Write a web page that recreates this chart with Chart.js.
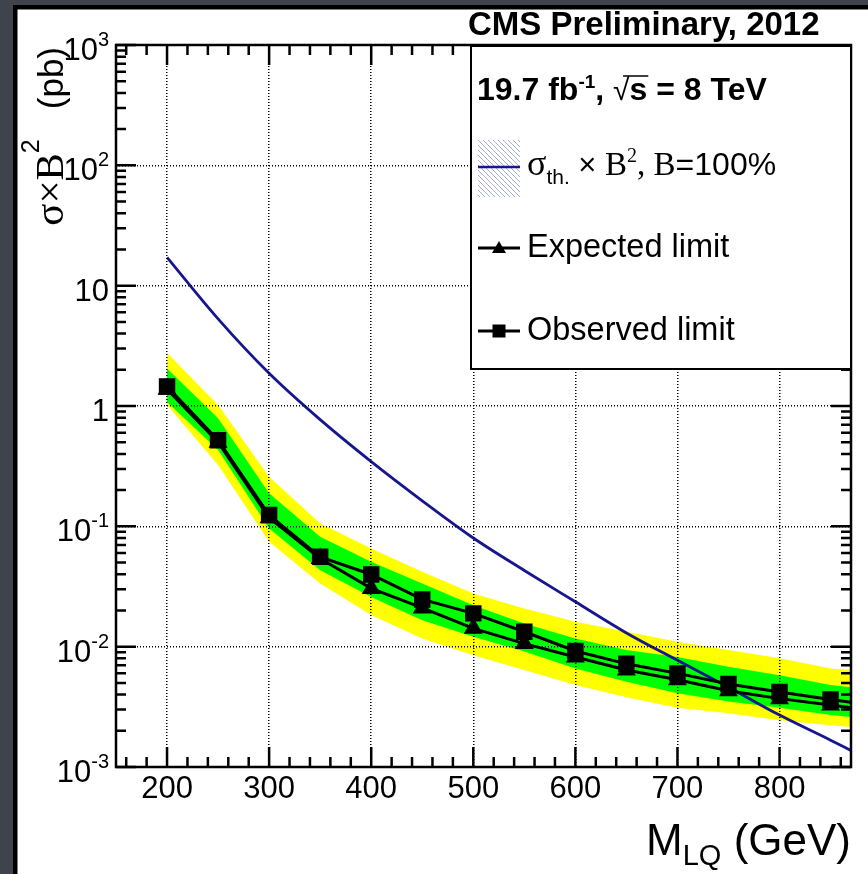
<!DOCTYPE html>
<html>
<head>
<meta charset="UTF-8" />
<title>LQ pair production limit</title>
<script src="https://cdn.jsdelivr.net/npm/chart.js"></script>
<style>
  html, body { margin: 0; padding: 0; background: #3f434b; }
  canvas { display: block; }
</style>
</head>
<body>
<canvas id="limitChart" width="868" height="874"></canvas>
<script>
  // values (pb); last column is where the curves leave the frame
  const masses    = [200, 250, 300, 350, 400, 450, 500, 550, 600, 650, 700, 750, 800, 850, 870];
  const observed  = [1.45, 0.52, 0.124, 0.0558, 0.0398, 0.0247, 0.0189, 0.0133, 0.0092, 0.0072, 0.0060, 0.0049, 0.0042, 0.00364, 0.00345];
  const expected  = [1.38, 0.50, 0.118, 0.054, 0.0305, 0.0210, 0.0142, 0.0106, 0.0082, 0.0064, 0.0053, 0.0043, 0.0037, 0.00327, 0.0031];
  const oneSigUp  = [2.05, 0.79, 0.188, 0.082, 0.0507, 0.0335, 0.0221, 0.0156, 0.0117, 0.0094, 0.0082, 0.0068, 0.0058, 0.0048, 0.0046];
  const oneSigDn  = [1.08, 0.43, 0.096, 0.0432, 0.0259, 0.0166, 0.0121, 0.0091, 0.0066, 0.0051, 0.0041, 0.0035, 0.0031, 0.0027, 0.0026];
  const twoSigUp  = [2.77, 1.02, 0.258, 0.106, 0.0655, 0.0419, 0.0277, 0.0208, 0.0161, 0.0133, 0.0110, 0.0094, 0.0080, 0.0066, 0.0064];
  const twoSigDn  = [1.02, 0.323, 0.0743, 0.0335, 0.0183, 0.0117, 0.0085, 0.0064, 0.0048, 0.0038, 0.0031, 0.0028, 0.00245, 0.00222, 0.00215];
  const theory    = [17.2, 5.3, 1.87, 0.77, 0.345, 0.163, 0.080, 0.043, 0.0236, 0.0130, 0.0077, 0.0046, 0.0027, 0.00167, 0.00137];

  const xGridValues = [200, 300, 400, 500, 600, 700, 800];
  const yExponents = [-3, -2, -1, 0, 1, 2, 3];

  const SANS = "'Liberation Sans', Arial, sans-serif";
  const SERIF = "'Liberation Serif', 'Times New Roman', serif";
  const THEORY_BLUE = '#16168f';

  const pts = arr => masses.map((m, i) => ({ x: m, y: arr[i] }));
  const lastIdx = masses.length - 1;
  const markerRadius = r => ctx => (ctx.dataIndex === lastIdx ? 0 : r);

  // draws a run of text pieces [text, font, dy, dxBefore]
  function drawRich(ctx, x, y, parts, align) {
    let w = 0;
    parts.forEach(p => { ctx.font = p[1]; w += ctx.measureText(p[0]).width + (p[3] || 0); });
    let cx = align === 'right' ? x - w : align === 'center' ? x - w / 2 : x;
    const pos = [];
    parts.forEach(p => {
      ctx.font = p[1];
      cx += p[3] || 0;
      ctx.fillText(p[0], cx, y + (p[2] || 0));
      pos.push(cx);
      cx += ctx.measureText(p[0]).width;
    });
    return pos;
  }

  const panelPlugin = {
    id: 'panel',
    beforeDraw(chart) {
      const ctx = chart.ctx;
      ctx.save();
      ctx.fillStyle = '#3f434b';
      ctx.fillRect(0, 0, chart.width, chart.height);
      ctx.fillStyle = '#000';
      ctx.fillRect(13, 5, chart.width, chart.height);
      ctx.fillStyle = '#fff';
      ctx.fillRect(17.5, 9.5, chart.width, chart.height);
      ctx.restore();
    },
    afterDraw(chart) {
      const ctx = chart.ctx;
      const xs = chart.scales.x, ys = chart.scales.y;
      const { left, right, top, bottom } = chart.chartArea;
      ctx.save();
      ctx.strokeStyle = '#000';
      ctx.fillStyle = '#000';

      // frame
      ctx.lineWidth = 2.5;
      ctx.strokeRect(left, top, right - left, bottom - top);

      // x ticks (bottom and top, pointing inwards)
      ctx.beginPath();
      for (let v = 160; v <= 860; v += 20) {
        const px = xs.getPixelForValue(v);
        const len = v % 100 === 0 ? 20 : 10;
        ctx.moveTo(px, bottom); ctx.lineTo(px, bottom - len);
        ctx.moveTo(px, top); ctx.lineTo(px, top + len);
      }
      // y ticks (left and right)
      for (let e = -3; e <= 2; e++) {
        for (let k = 1; k <= 9; k++) {
          const py = ys.getPixelForValue(k * Math.pow(10, e));
          const len = k === 1 ? 20 : 10;
          ctx.moveTo(left, py); ctx.lineTo(left + len, py);
          ctx.moveTo(right, py); ctx.lineTo(right - len, py);
        }
      }
      const pyTop = ys.getPixelForValue(1000);
      ctx.moveTo(left, pyTop); ctx.lineTo(left + 20, pyTop);
      ctx.stroke();

      // x tick labels
      ctx.textBaseline = 'alphabetic';
      ctx.textAlign = 'left';
      xGridValues.forEach(v => {
        drawRich(ctx, xs.getPixelForValue(v), bottom + 31, [[String(v), '31px ' + SANS]], 'center');
      });
      // y tick labels
      yExponents.forEach(e => {
        const py = ys.getPixelForValue(Math.pow(10, e)) + 15;
        let parts;
        if (e === 0) parts = [['1', '31px ' + SANS]];
        else if (e === 1) parts = [['10', '31px ' + SANS]];
        else parts = [['10', '31px ' + SANS], [String(e), '20px ' + SANS, -14]];
        drawRich(ctx, 109, py, parts, 'right');
      });

      // axis titles
      drawRich(ctx, right, 855, [['M', '44px ' + SANS], ['LQ', '29px ' + SANS, 10], [' (GeV)', '44px ' + SANS]], 'right');
      ctx.save();
      ctx.translate(63, 47);
      ctx.rotate(-Math.PI / 2);
      drawRich(ctx, 0, 0, [['σ×B', '41px ' + SERIF], ['2', '25px ' + SANS, -24], ['(pb)', '35px ' + SANS, 0, 30]], 'right');
      ctx.restore();

      // header
      drawRich(ctx, 468, 35, [['CMS Preliminary, 2012', 'bold 33px ' + SANS]]);

      // legend box
      const lx = 471, ly = 46, lw = right - 471, lh = 323;
      ctx.fillStyle = '#fff';
      ctx.fillRect(lx, ly, lw, lh);
      ctx.lineWidth = 2;
      ctx.strokeRect(lx, ly, lw, lh);
      ctx.fillStyle = '#000';

      const B = 'bold 32px ' + SANS;
      const p = drawRich(ctx, 477, 100, [['19.7 fb', B], ['-1', 'bold 19px ' + SANS, -12], [', ', B], ['√', '30px ' + SANS], ['s', B], [' = 8 TeV', B]]);
      ctx.font = B;
      const sW = ctx.measureText('s').width;
      ctx.lineWidth = 1.5;
      ctx.beginPath();
      ctx.moveTo(p[3] + 10, 76); ctx.lineTo(p[4] + sW + 1, 76);
      ctx.stroke();

      // theory entry: hatched box + blue line
      ctx.save();
      ctx.beginPath();
      ctx.rect(478, 140, 42, 57);
      ctx.clip();
      ctx.strokeStyle = '#a7acd6';
      ctx.lineWidth = 1;
      ctx.beginPath();
      for (let d = -60; d < 60; d += 5) {
        ctx.moveTo(478 + d, 140); ctx.lineTo(478 + d + 57, 197);
      }
      ctx.stroke();
      ctx.restore();
      ctx.strokeStyle = THEORY_BLUE;
      ctx.lineWidth = 2.5;
      ctx.beginPath(); ctx.moveTo(478, 167); ctx.lineTo(520, 167); ctx.stroke();
      drawRich(ctx, 527, 175, [['σ', '36px ' + SERIF], ['th.', '21px ' + SANS, 9], [' × ', '31px ' + SANS],
        ['B', '33px ' + SERIF], ['2', '20px ' + SERIF, -13], [', ', '33px ' + SERIF], ['B', '33px ' + SERIF], ['=100%', '32px ' + SANS]]);

      // expected / observed entries
      ctx.strokeStyle = '#000';
      ctx.lineWidth = 3;
      ctx.beginPath();
      ctx.moveTo(478, 248); ctx.lineTo(520, 248);
      ctx.moveTo(478, 331); ctx.lineTo(520, 331);
      ctx.stroke();
      ctx.beginPath();
      ctx.moveTo(499, 241); ctx.lineTo(506, 253); ctx.lineTo(492, 253); ctx.closePath();
      ctx.fill();
      ctx.fillRect(492.5, 324.5, 13, 13);
      drawRich(ctx, 527, 257, [['Expected limit', '32.5px ' + SANS]]);
      drawRich(ctx, 527, 340, [['Observed limit', '32.5px ' + SANS]]);

      ctx.restore();
    }
  };

  new Chart(document.getElementById('limitChart'), {
    type: 'line',
    data: {
      datasets: [
        {
          label: 'Observed limit', data: pts(observed), borderColor: '#000', backgroundColor: '#000',
          borderWidth: 3, pointStyle: 'rect', pointRadius: markerRadius(9.5), fill: false
        },
        {
          label: 'Expected limit', data: pts(expected), borderColor: '#000', backgroundColor: '#000',
          borderWidth: 3, pointStyle: 'triangle', pointRadius: markerRadius(8), fill: false
        },
        {
          label: 'σth. × B², B=100%', data: pts(theory), borderColor: THEORY_BLUE, borderWidth: 2.8,
          pointRadius: 0, cubicInterpolationMode: 'monotone', fill: false
        },
        { label: '1 sigma up', data: pts(oneSigUp), borderWidth: 0, pointRadius: 0, backgroundColor: '#00ff00', fill: { target: 4 } },
        { label: '1 sigma down', data: pts(oneSigDn), borderWidth: 0, pointRadius: 0, fill: false },
        { label: '2 sigma up', data: pts(twoSigUp), borderWidth: 0, pointRadius: 0, backgroundColor: '#ffff00', fill: { target: 6 } },
        { label: '2 sigma down', data: pts(twoSigDn), borderWidth: 0, pointRadius: 0, fill: false }
      ]
    },
    options: {
      responsive: false,
      animation: false,
      layout: { padding: { left: 116, top: 45, right: 17, bottom: 107 } },
      plugins: { legend: { display: false }, tooltip: { enabled: false } },
      scales: {
        x: {
          type: 'linear', min: 150, max: 870,
          afterBuildTicks: s => { s.ticks = xGridValues.map(v => ({ value: v })); },
          ticks: { display: false },
          grid: { color: '#000', lineWidth: 1.5, drawTicks: false, z: 1 },
          border: { display: false, dash: [1, 2] }
        },
        y: {
          type: 'logarithmic', min: 1e-3, max: 1e3,
          afterBuildTicks: s => { s.ticks = yExponents.slice(1, -1).map(e => ({ value: Math.pow(10, e) })); },
          ticks: { display: false },
          grid: { color: '#000', lineWidth: 1.5, drawTicks: false, z: 1 },
          border: { display: false, dash: [1, 2] }
        }
      }
    },
    plugins: [panelPlugin]
  });
</script>
</body>
</html>
